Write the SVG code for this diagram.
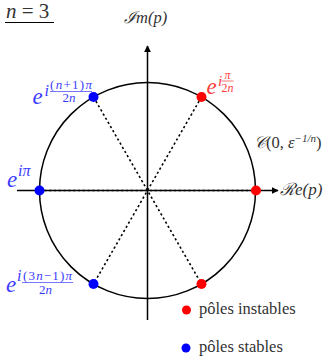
<svg xmlns="http://www.w3.org/2000/svg" width="329" height="356" viewBox="0 0 329 356">
<style>
.ax{stroke:#000;stroke-width:1.5;fill:none}
.dot{stroke:#000;stroke-width:1.6;stroke-dasharray:2.2 2.6;fill:none}
.m{font-style:italic}
.blue{fill:#3b3bff}
.red{fill:#ff3b3b}
.gray{fill:#333}
.e{font-size:23px}
.sup{font-size:16px}
.fr{font-size:13px}
</style>
<defs>
<marker id="ah" viewBox="0 0 10 10" refX="9" refY="5" markerWidth="7" markerHeight="7" markerUnits="userSpaceOnUse" orient="auto">
<path d="M0,0 L10,5 L0,10 Z" fill="#000"/>
</marker>
</defs>
<g id="connectors">
<line class="ax" x1="17" y1="190.5" x2="278" y2="190.5" marker-end="url(#ah)"/>
<line class="ax" x1="147.5" y1="320" x2="147.5" y2="46" marker-end="url(#ah)"/>
<line class="dot" x1="39.5" y1="190.5" x2="256" y2="190.5"/>
<line class="dot" x1="201.5" y1="97" x2="93.5" y2="284"/>
<line class="dot" x1="93.5" y1="97" x2="201.5" y2="284"/>
</g>
<g font-family="'Liberation Serif', 'Times New Roman', serif">
<g id="circle">
<circle cx="147.5" cy="190.5" r="108" fill="none" stroke="#000" stroke-width="1.5"/>
<text class="m gray" x="254" y="148" font-size="16.5">𝒞<tspan font-style="normal">(0,</tspan> ε<tspan font-size="11" dy="-6">−1/n</tspan><tspan font-style="normal" dy="6">)</tspan></text>
</g>
<g id="title">
<text class="m gray" x="6" y="18" font-size="21">n <tspan font-style="normal">= 3</tspan></text>
<line x1="5" y1="22.5" x2="54" y2="22.5" stroke="#000" stroke-width="1"/>
</g>
<g id="axis-labels">
<text class="m gray" x="124" y="23" font-size="16.5">ℐm(p)</text>
<text class="m gray" x="280" y="195" font-size="17">ℛe(p)</text>
</g>
<g id="pole-0">
<circle cx="256" cy="190.5" r="5" fill="#ff0000"/>
</g>
<g id="pole-60">
<circle cx="201.5" cy="97" r="5" fill="#ff0000"/>
<text class="m red e" x="206.5" y="94">e</text>
<text class="m red" x="218" y="85.5" font-size="15">i</text>
<text class="m red" x="227.5" y="79" font-size="12" text-anchor="middle">π</text>
<line x1="221.5" y1="81" x2="233.5" y2="81" stroke="#ff3b3b" stroke-width="0.7"/>
<text class="m red" x="227.5" y="91.5" font-size="12" text-anchor="middle"><tspan font-style="normal">2</tspan>n</text>
</g>
<g id="pole-120">
<circle cx="93.5" cy="97" r="5" fill="#0000ff"/>
<text class="m blue e" x="32.5" y="103.5">e</text>
<text class="m blue sup" x="44.5" y="96">i</text>
<text class="m blue fr" x="71" y="88.5" text-anchor="middle" textLength="42"><tspan font-style="normal">(</tspan>n<tspan font-style="normal">+1)</tspan>π</text>
<line x1="50" y1="91.5" x2="92" y2="91.5" stroke="#3b3bff" stroke-width="0.7"/>
<text class="m blue fr" x="69" y="102" text-anchor="middle"><tspan font-style="normal">2</tspan>n</text>
</g>
<g id="pole-180">
<circle cx="39.5" cy="190.5" r="5" fill="#0000ff"/>
<text class="m blue e" x="7" y="186.5">e</text>
<text class="m blue" x="18" y="175.5" font-size="16">iπ</text>
</g>
<g id="pole-240">
<circle cx="93.5" cy="284" r="5" fill="#0000ff"/>
<text class="m blue e" x="6" y="292">e</text>
<text class="m blue sup" x="17" y="281">i</text>
<text class="m blue fr" x="47.5" y="279.5" text-anchor="middle" textLength="49"><tspan font-style="normal">(3</tspan>n<tspan font-style="normal">−1)</tspan>π</text>
<line x1="22" y1="282.5" x2="73" y2="282.5" stroke="#3b3bff" stroke-width="0.7"/>
<text class="m blue fr" x="45.5" y="293.5" text-anchor="middle"><tspan font-style="normal">2</tspan>n</text>
</g>
<g id="pole-300">
<circle cx="201.5" cy="284" r="5" fill="#ff0000"/>
</g>
<g id="legend">
<circle cx="186.5" cy="310" r="4.5" fill="#ff0000"/>
<text class="gray" x="199" y="314" font-size="16.5">pôles instables</text>
<circle cx="186" cy="348" r="4.5" fill="#0000ff"/>
<text class="gray" x="199" y="352" font-size="16.5">pôles stables</text>
</g>
</g>
</svg>
